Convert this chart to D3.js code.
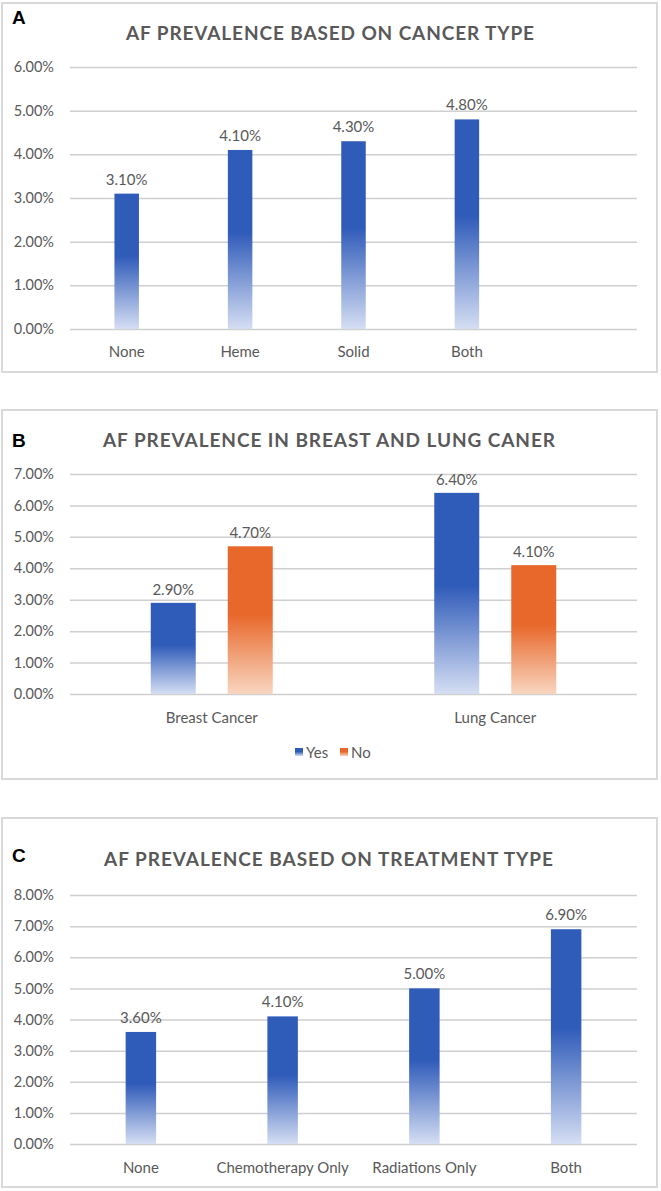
<!DOCTYPE html>
<html>
<head>
<meta charset="utf-8">
<script src="https://cdn.jsdelivr.net/npm/d3@7"></script>
<style>
  html, body { margin: 0; padding: 0; background: #fff; }
  svg { display: block; }
</style>
</head>
<body>
<svg id="chart" width="661" height="1191"></svg>
<script>
// ---------- DATA ----------
const panelATitle = "AF PREVALENCE BASED ON CANCER TYPE";
const panelACategories = ["None", "Heme", "Solid", "Both"];
const panelAValues = [3.1, 4.1, 4.3, 4.8];
const panelATicks = [0, 1, 2, 3, 4, 5, 6];

const panelBTitle = "AF PREVALENCE IN BREAST AND LUNG CANER";
const panelBCategories = ["Breast Cancer", "Lung Cancer"];
const panelBSeries = ["Yes", "No"];
const panelBYes = [2.9, 6.4];
const panelBNo = [4.7, 4.1];
const panelBTicks = [0, 1, 2, 3, 4, 5, 6, 7];

const panelCTitle = "AF PREVALENCE BASED ON TREATMENT TYPE";
const panelCCategories = ["None", "Chemotherapy Only", "Radiations Only", "Both"];
const panelCValues = [3.6, 4.1, 5.0, 6.9];
const panelCTicks = [0, 1, 2, 3, 4, 5, 6, 7, 8];

// ---------- STYLE ----------
const FONT = "Lato, 'Open Sans', sans-serif";
const TEXT = "#595959";
const GRID = "#cfcfcf";
const FRAME = "#d9d9d9";
const BLUE = "#2f5bb9";
const BLUE_LIGHT = "#d5def3";
const ORANGE = "#e8672a";
const ORANGE_LIGHT = "#f8d6c0";

const svg = d3.select("#chart");
const defs = svg.append("defs");

function gradient(id, c1, c2) {
  const g = defs.append("linearGradient").attr("id", id)
    .attr("x1", 0).attr("y1", 0).attr("x2", 0).attr("y2", 1);
  g.append("stop").attr("offset", "0%").attr("stop-color", c1);
  g.append("stop").attr("offset", "46%").attr("stop-color", c1);
  g.append("stop").attr("offset", "100%").attr("stop-color", c2);
}
gradient("gBlue", BLUE, BLUE_LIGHT);
gradient("gOrange", ORANGE, ORANGE_LIGHT);

const fmt = v => d3.format(".2f")(v) + "%";

function panel(opt) {
  const g = svg.append("g");
  g.append("rect")
    .attr("x", 2).attr("y", opt.top)
    .attr("width", 655).attr("height", opt.height)
    .attr("fill", "#fff").attr("stroke", FRAME).attr("stroke-width", 2);
  g.append("text")
    .attr("x", 12).attr("y", opt.letterY)
    .attr("font-family", "'Liberation Sans', Arial, sans-serif")
    .attr("font-weight", "bold").attr("font-size", 19)
    .attr("fill", "#000").text(opt.letter);
  g.append("text")
    .attr("x", opt.titleX0).attr("y", opt.titleY)
    .attr("font-family", FONT).attr("font-weight", 700)
    .attr("font-size", 19).attr("fill", TEXT)
    .attr("dominant-baseline", "central")
    .attr("textLength", opt.titleX1 - opt.titleX0)
    .attr("lengthAdjust", "spacing")
    .text(opt.title);

  const y = d3.scaleLinear().domain([0, d3.max(opt.ticks)])
    .range([opt.y0, opt.yTop]);

  const gg = g.append("g").attr("transform", `translate(637,0)`)
    .call(d3.axisRight(y).tickValues(opt.ticks).tickSize(-(637 - 70)).tickFormat(""));
  gg.select(".domain").remove();
  gg.selectAll(".tick line").attr("stroke", GRID).attr("stroke-width", 1.5);

  const ya = g.append("g").attr("transform", "translate(54,0)")
    .call(d3.axisLeft(y).tickValues(opt.ticks).tickSize(0).tickPadding(0).tickFormat(fmt));
  ya.select(".domain").remove();
  ya.selectAll("text").attr("font-family", FONT).attr("font-size", 14.5)
    .attr("fill", TEXT);
  return { g, y };
}

function labelsX(g, x, cats, yPos) {
  const xa = g.append("g").attr("transform", `translate(0,${yPos})`)
    .call(d3.axisBottom(x).tickValues(cats).tickSize(0).tickPadding(0));
  xa.select(".domain").remove();
  xa.selectAll("text").attr("font-family", FONT).attr("font-size", 15)
    .attr("fill", TEXT).attr("dy", "0.35em");
}

// ---------- PANEL A ----------
{
  const { g, y } = panel({
    top: 3, height: 369, letter: "A", letterY: 24,
    title: panelATitle, titleX0: 126, titleX1: 534, titleY: 32,
    ticks: panelATicks, y0: 329, yTop: 67
  });
  const x = d3.scaleBand().domain([...panelACategories, ""])
    .range([70, 637]).paddingInner(0.784).paddingOuter(0.392);
  const data = panelACategories.map((c, i) => ({ c, v: panelAValues[i] }));
  g.selectAll(".barA").data(data).join("rect")
    .attr("x", d => x(d.c)).attr("width", x.bandwidth())
    .attr("y", d => y(d.v)).attr("height", d => y(0) - y(d.v))
    .attr("fill", "url(#gBlue)");
  g.selectAll(".valA").data(data).join("text")
    .attr("x", d => x(d.c) + x.bandwidth() / 2).attr("y", d => y(d.v) - 15)
    .attr("text-anchor", "middle").attr("dominant-baseline", "central")
    .attr("font-family", FONT).attr("font-size", 15).attr("fill", TEXT)
    .text(d => fmt(d.v));
  labelsX(g, x, panelACategories, 352);
}

// ---------- PANEL B ----------
{
  const { g, y } = panel({
    top: 410, height: 369, letter: "B", letterY: 447,
    title: panelBTitle, titleX0: 103, titleX1: 555, titleY: 439,
    ticks: panelBTicks, y0: 694, yTop: 474
  });
  const x0 = d3.scaleBand().domain(panelBCategories)
    .range([70, 637]).paddingInner(0.5697).paddingOuter(0.28485);
  const x1 = d3.scaleBand().domain(panelBSeries)
    .range([0, x0.bandwidth()]).paddingInner(0.4156).paddingOuter(0);
  const vals = { Yes: panelBYes, No: panelBNo };
  const grads = { Yes: "url(#gBlue)", No: "url(#gOrange)" };
  const data = [];
  panelBCategories.forEach((c, i) => panelBSeries.forEach(s => data.push({ c, s, v: vals[s][i] })));
  g.selectAll(".barB").data(data).join("rect")
    .attr("x", d => x0(d.c) + x1(d.s)).attr("width", x1.bandwidth())
    .attr("y", d => y(d.v)).attr("height", d => y(0) - y(d.v))
    .attr("fill", d => grads[d.s]);
  g.selectAll(".valB").data(data).join("text")
    .attr("x", d => x0(d.c) + x1(d.s) + x1.bandwidth() / 2).attr("y", d => y(d.v) - 14)
    .attr("text-anchor", "middle").attr("dominant-baseline", "central")
    .attr("font-family", FONT).attr("font-size", 15).attr("fill", TEXT)
    .text(d => fmt(d.v));
  labelsX(g, x0, panelBCategories, 718);
  const legX = { Yes: 295, No: 340 };
  const lg = g.selectAll(".leg").data(panelBSeries).join("g")
    .attr("transform", d => `translate(${legX[d]},752)`);
  lg.append("rect").attr("x", 0).attr("y", -4).attr("width", 8).attr("height", 8)
    .attr("fill", d => grads[d]);
  lg.append("text").attr("x", 11).attr("y", 0).attr("dominant-baseline", "central")
    .attr("font-family", FONT).attr("font-size", 15).attr("fill", TEXT)
    .text(d => d);
}

// ---------- PANEL C ----------
{
  const { g, y } = panel({
    top: 818, height: 369, letter: "C", letterY: 862,
    title: panelCTitle, titleX0: 104, titleX1: 553, titleY: 858,
    ticks: panelCTicks, y0: 1144, yTop: 895
  });
  const x = d3.scaleBand().domain(panelCCategories)
    .range([70, 637]).paddingInner(0.785).paddingOuter(0.3925);
  const data = panelCCategories.map((c, i) => ({ c, v: panelCValues[i] }));
  g.selectAll(".barC").data(data).join("rect")
    .attr("x", d => x(d.c)).attr("width", x.bandwidth())
    .attr("y", d => y(d.v)).attr("height", d => y(0) - y(d.v))
    .attr("fill", "url(#gBlue)");
  g.selectAll(".valC").data(data).join("text")
    .attr("x", d => x(d.c) + x.bandwidth() / 2).attr("y", d => y(d.v) - 15)
    .attr("text-anchor", "middle").attr("dominant-baseline", "central")
    .attr("font-family", FONT).attr("font-size", 15).attr("fill", TEXT)
    .text(d => fmt(d.v));
  labelsX(g, x, panelCCategories, 1168);
}
</script>
</body>
</html>
